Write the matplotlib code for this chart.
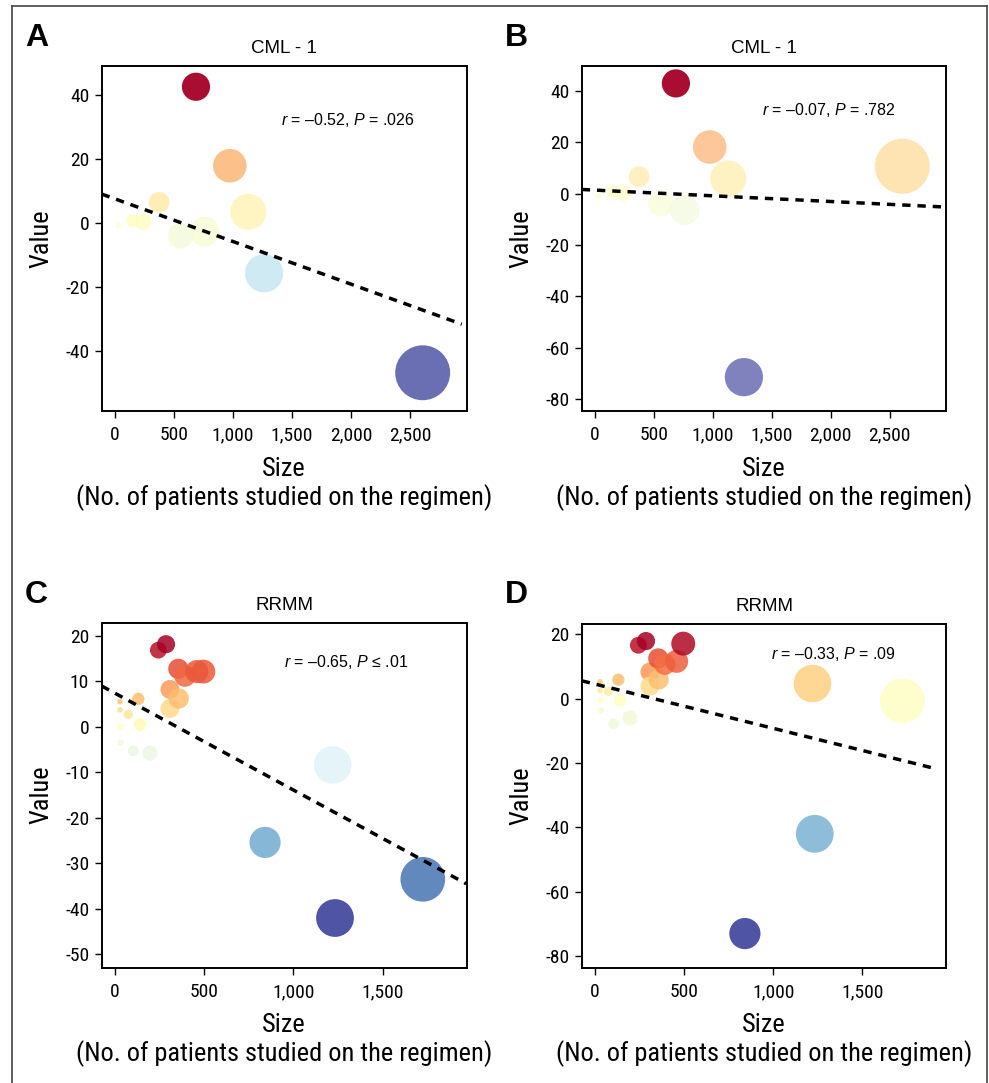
# %%--------------------------------------------------------------------
# BUBBLE SCATTER: VALUE VS TRIAL SIZE (CML - 1 / RRMM), 2x2 PANELS
import numpy as np
import matplotlib.pyplot as plt
from matplotlib import font_manager as fm
from matplotlib.colors import TwoSlopeNorm
from matplotlib.lines import Line2D
from matplotlib.ticker import FuncFormatter

# Pick a narrow sans font if one is installed
fonts = [(f.name, f.stretch) for f in fm.fontManager.ttflist]
names = {n for n, _ in fonts}
narrow, stretch = "Roboto", "normal"
if "Liberation Sans Narrow" in names:
    narrow = "Liberation Sans Narrow"
elif "Roboto Condensed" in names:
    narrow = "Roboto Condensed"
elif ("DejaVu Sans", "condensed") in fonts:
    narrow, stretch = "DejaVu Sans", "condensed"
elif ("Roboto", "condensed") in fonts:
    narrow, stretch = "Roboto", "condensed"

plt.rcParams['font.family'] = [narrow, 'DejaVu Sans']
plt.rcParams['font.stretch'] = stretch
plt.rcParams['axes.unicode_minus'] = False
plt.rcParams['mathtext.fontset'] = 'custom'
plt.rcParams['mathtext.it'] = 'Liberation Sans:italic'
plt.rcParams['mathtext.rm'] = 'Liberation Sans'

# Data
cml_size = [28, 150, 240, 374, 556, 686, 760, 973, 1130, 1263, 2607]
cml_value_a = [-0.8, 0.7, 0.4, 6.5, -4.0, 42.6, -2.7, 17.9, 3.5, -15.7, -46.8]
cml_value_b = [-0.9, 0.8, 0.4, 6.6, -3.8, 43.0, -6.4, 18.2, 5.9, -71.5, 10.7]

rrmm_size = [28, 28, 32, 32, 75, 103, 131, 140, 196, 243, 286, 308, 308,
             355, 357, 392, 458, 495, 841, 1220, 1233, 1725]
rrmm_value_c = [5.5, 3.7, 0.0, -3.5, 2.7, -5.3, 6.1, 0.5, -5.8, 16.8, 18.1,
                8.2, 4.0, 12.7, 6.2, 11.1, 12.1, 12.1, -25.4, -8.4, -42.0, -33.5]
rrmm_value_d = [5.2, 2.5, -0.5, -3.6, 2.3, -7.8, 5.9, -0.5, -6.0, 16.6, 17.9,
                8.3, 3.9, 12.5, 6.0, 10.7, 11.6, 17.1, -73.0, 4.7, -42.0, -0.7]

# Fitted lines (slope, intercept) and stats text
fit_a = (-0.01333, 7.55)
fit_b = (-0.00222, 1.40)
fit_c = (-0.02125, 7.35)
fit_d = (-0.01376, 4.54)
stat_a = "$r$ = –0.52, $P$ = .026"
stat_b = "$r$ = –0.07, $P$ = .782"
stat_c = "$r$ = –0.65, $P$ ≤ .01"
stat_d = "$r$ = –0.33, $P$ = .09"

cml_xticks = [0, 500, 1000, 1500, 2000, 2500]
rrmm_xticks = [0, 500, 1000, 1500]

panels = [
    # letter, title, x, y, fit, stat, rect, xlim, ylim, xticks, yticks,
    # fit_end, stat_xy, alpha
    ("A", "CML - 1", cml_size, cml_value_a, fit_a, stat_a,
     [0.1028, 0.6205, 0.3691, 0.3186], (-113, 2980), (-58.75, 49.1),
     cml_xticks, [-40, -20, 0, 20, 40], 2938, (0.675, 0.843), 0.72),
    ("B", "CML - 1", cml_size, cml_value_b, fit_b, stat_b,
     [0.5882, 0.6205, 0.3686, 0.3186], (-113, 2980), (-84.7, 49.8),
     cml_xticks, [-80, -60, -40, -20, 0, 20, 40], 2980, (0.677, 0.871), 0.62),
    ("C", "RRMM", rrmm_size, rrmm_value_c, fit_c, stat_c,
     [0.1028, 0.1065, 0.3691, 0.3186], (-74.5, 1971), (-52.9, 22.85),
     rrmm_xticks, [-50, -40, -30, -20, -10, 0, 10, 20], 1968, (0.671, 0.887), 0.85),
    ("D", "RRMM", rrmm_size, rrmm_value_d, fit_d, stat_d,
     [0.5882, 0.1065, 0.3686, 0.3176], (-74.5, 1971), (-83.6, 23.3),
     rrmm_xticks, [-80, -60, -40, -20, 0, 20], 1915, (0.691, 0.913), 0.85),
]

fig = plt.figure(figsize=(9.89, 10.83), dpi=100)

for (letter, title, size, value, fit, stat, rect, xlim, ylim,
     xticks, yticks, fit_end, stat_xy, alpha) in panels:
    ax = fig.add_axes(rect)
    size = np.array(size)
    value = np.array(value)

    # bubble area proportional to trial size, colour by value
    norm = TwoSlopeNorm(vcenter=0, vmin=value.min(), vmax=value.max())
    colors = plt.get_cmap("RdYlBu_r")(norm(value))
    colors[:, 3] = alpha
    colors[value >= 30, 3] = 0.95  # top-ranked point stays saturated
    ax.scatter(size, value, s=size * 0.6, c=colors, linewidths=0, zorder=2)

    # fitted regression line
    xs = np.array([xlim[0], fit_end])
    ax.plot(xs, fit[0] * xs + fit[1], color="black", linewidth=2.5,
            linestyle=(0, (2.4, 2.0)), zorder=3)

    ax.set_xlim(xlim)
    ax.set_ylim(ylim)
    ax.set_xticks(xticks)
    ax.set_yticks(yticks)
    ax.xaxis.set_major_formatter(FuncFormatter(lambda v, p: f"{int(v):,}"))

    ax.set_title(title, fontsize=13.5, pad=9,
                 family=['Liberation Sans', 'DejaVu Sans'])
    ax.set_xlabel("Size\n(No. of patients studied on the regimen)",
                  fontsize=19, linespacing=1.15)
    ax.set_ylabel("Value", fontsize=19)
    ax.xaxis.set_label_coords(0.5, -0.132)
    ax.yaxis.set_label_coords(-0.133, 0.5)

    ax.text(stat_xy[0], stat_xy[1], stat, transform=ax.transAxes,
            ha="center", va="center", fontsize=11.5,
            family=['Liberation Sans', 'DejaVu Sans'])

    for sp in ax.spines.values():
        sp.set_linewidth(1.4)
    ax.tick_params(axis="both", direction="out", length=5, width=1,
                   labelsize=14)
    ax.tick_params(axis="x", pad=6)
    ax.tick_params(axis="y", pad=4)

    # panel letter
    lx = 25 / 989 if rect[0] < 0.5 else 505 / 989
    ly = 1 - 46 / 1083 if rect[1] > 0.5 else 1 - 603 / 1083
    fig.text(lx, ly, letter, fontsize=23, fontweight="bold",
             family=['Liberation Sans', 'DejaVu Sans'], stretch="normal",
             ha="left", va="baseline")

# outer frame (open at the bottom)
frame_kw = dict(color="#444444", linewidth=1.2, transform=fig.transFigure)
fig.add_artist(Line2D([12 / 989, 12 / 989], [0, 1 - 6 / 1083], **frame_kw))
fig.add_artist(Line2D([12 / 989, 987 / 989], [1 - 6 / 1083, 1 - 6 / 1083], **frame_kw))
fig.add_artist(Line2D([987 / 989, 987 / 989], [0, 1 - 6 / 1083], **frame_kw))

fig.savefig("out.png", dpi=100)
